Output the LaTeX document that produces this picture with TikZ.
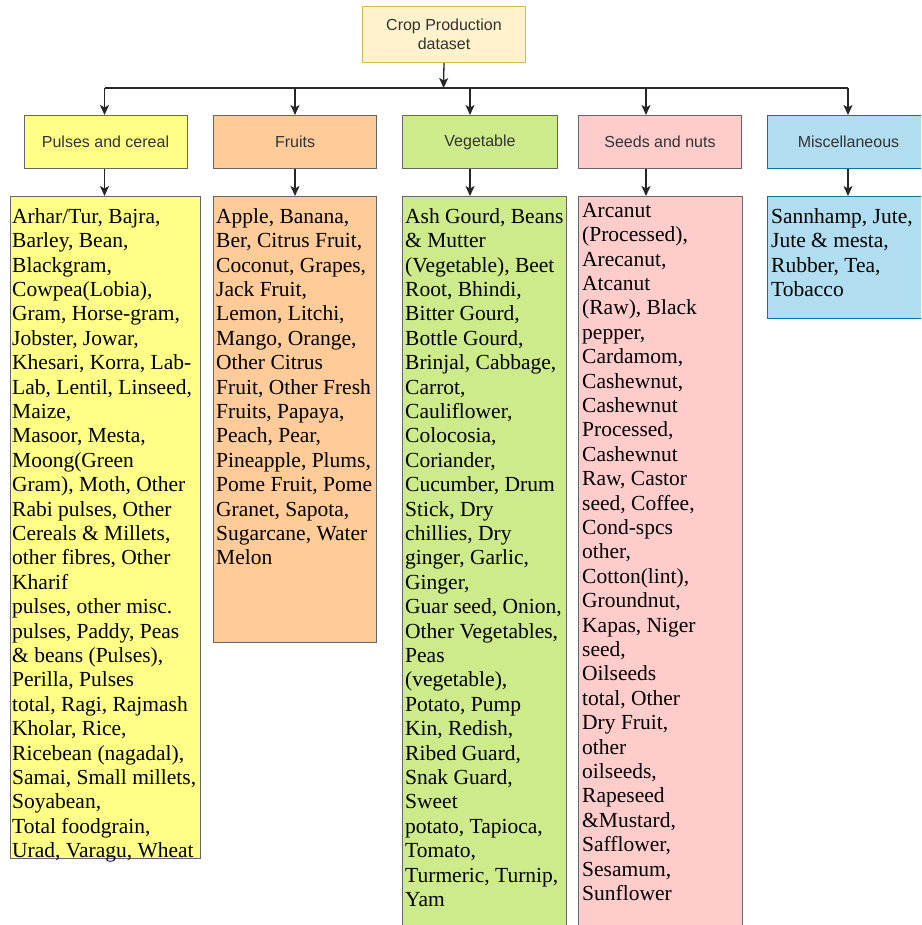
\documentclass[tikz,border=0pt]{standalone}
\usepackage{fontspec}
\setmainfont{Liberation Serif}
\setsansfont{Liberation Sans}
\usetikzlibrary{arrows.meta}
\definecolor{rootfill}{HTML}{FFF2CC}
\definecolor{rootline}{HTML}{D6B656}
\definecolor{pulsefill}{HTML}{FFFF88}
\definecolor{fruitfill}{HTML}{FFCC99}
\definecolor{vegfill}{HTML}{CDEB8B}
\definecolor{seedfill}{HTML}{FFCCCC}
\definecolor{miscfill}{HTML}{B1DDF0}
\definecolor{miscline}{HTML}{10739E}
\definecolor{boxline}{HTML}{666666}
\definecolor{labeltext}{HTML}{333333}
\tikzset{
  head/.style={draw=boxline, line width=1pt, anchor=north west, inner sep=0pt,
    align=center, text=labeltext, font=\sffamily\fontsize{16}{19}\selectfont},
  list/.style={draw=boxline, line width=1pt, anchor=north west, inner sep=0pt},
  items/.style={anchor=north west, inner sep=0pt, align=left, text=black,
    font=\fontsize{21.5}{24.4}\selectfont},
  link/.style={-{Stealth[length=10pt,width=9pt,inset=2.5pt]}, line width=1.3pt, draw=black!85}
}
\begin{document}
\begin{tikzpicture}[x=1pt,y=-1pt]
  \path[use as bounding box, clip] (0,0) rectangle (921,925);
  \fill[white] (0,0) rectangle (921,925);
  % root and categories
  \node[head, fill=rootfill, draw=rootline, minimum width=163pt, minimum height=56pt]
    (root) at (362,6) {Crop Production\\dataset};
  \node[head, fill=pulsefill, minimum width=163pt, minimum height=53pt] (pulses) at (23.5,115) {Pulses and cereal};
  \node[head, fill=fruitfill, minimum width=163pt, minimum height=53pt] (fruits) at (213,115) {Fruits};
  \node[head, fill=vegfill, minimum width=155pt, minimum height=53pt] (veg) at (402,115) {Vegetable};
  \node[head, fill=seedfill, minimum width=163pt, minimum height=53pt] (seeds) at (578,115) {Seeds and nuts};
  \node[head, fill=miscfill, draw=miscline, minimum width=162pt, minimum height=53pt] (misc) at (767,115) {Miscellaneous};
  % list boxes
  \node[list, fill=pulsefill, minimum width=190pt, minimum height=662pt] (pulseslist) at (10,196) {};
  \node[list, fill=fruitfill, minimum width=163pt, minimum height=446pt] (fruitslist) at (213,196) {};
  \node[list, fill=vegfill, minimum width=164pt, minimum height=740pt] (veglist) at (402,196) {};
  \node[list, fill=seedfill, minimum width=164pt, minimum height=740pt] (seedslist) at (578,196) {};
  \node[list, fill=miscfill, draw=miscline, minimum width=162pt, minimum height=122pt] (misclist) at (767,196) {};
  % list texts
  \node[items] (pulsestext) at (12,206) {\strut Arhar/Tur, Bajra,\\Barley, Bean,\\Blackgram,\\Cowpea(Lobia),\\Gram, Horse-gram,\\Jobster, Jowar,\\Khesari, Korra, Lab-\\Lab, Lentil, Linseed,\\Maize,\\Masoor, Mesta,\\Moong(Green\\Gram), Moth, Other\\Rabi pulses, Other\\Cereals \& Millets,\\other fibres, Other\\Kharif\\pulses, other misc.\\pulses, Paddy, Peas\\\& beans (Pulses),\\Perilla, Pulses\\total, Ragi, Rajmash\\Kholar, Rice,\\Ricebean (nagadal),\\Samai, Small millets,\\Soyabean,\\Total foodgrain,\\Urad, Varagu, Wheat};
  \node[items] (fruitstext) at (216,206) {\strut Apple, Banana,\\Ber, Citrus Fruit,\\Coconut, Grapes,\\Jack Fruit,\\Lemon, Litchi,\\Mango, Orange,\\Other Citrus\\Fruit, Other Fresh\\Fruits, Papaya,\\Peach, Pear,\\Pineapple, Plums,\\Pome Fruit, Pome\\Granet, Sapota,\\Sugarcane, Water\\Melon};
  \node[items] (vegtext) at (405,206) {\strut Ash Gourd, Beans\\\& Mutter\\(Vegetable), Beet\\Root, Bhindi,\\Bitter Gourd,\\Bottle Gourd,\\Brinjal, Cabbage,\\Carrot,\\Cauliflower,\\Colocosia,\\Coriander,\\Cucumber, Drum\\Stick, Dry\\chillies, Dry\\ginger, Garlic,\\Ginger,\\Guar seed, Onion,\\Other Vegetables,\\Peas\\(vegetable),\\Potato, Pump\\Kin, Redish,\\Ribed Guard,\\Snak Guard,\\Sweet\\potato, Tapioca,\\Tomato,\\Turmeric, Turnip,\\Yam};
  \node[items] (seedstext) at (582,200) {\strut Arcanut\\(Processed),\\Arecanut,\\Atcanut\\(Raw), Black\\pepper,\\Cardamom,\\Cashewnut,\\Cashewnut\\Processed,\\Cashewnut\\Raw, Castor\\seed, Coffee,\\Cond-spcs\\other,\\Cotton(lint),\\Groundnut,\\Kapas, Niger\\seed,\\Oilseeds\\total, Other\\Dry Fruit,\\other\\oilseeds,\\Rapeseed\\\&Mustard,\\Safflower,\\Sesamum,\\Sunflower};
  \node[items] (misctext) at (771,206) {\strut Sannhamp, Jute,\\Jute \& mesta,\\Rubber, Tea,\\Tobacco};
  % connectors
  \coordinate (bus) at (443.5,88);
  \coordinate (d1) at (104.5,88);
  \coordinate (d2) at (295,88);
  \coordinate (d3) at (470,88);
  \coordinate (d4) at (646,88);
  \coordinate (d5) at (848,88);
  \draw[line width=1.6pt, draw=black!85] (d1) -- (d5);
  \draw[link] (root.south) -- (bus);
  \draw[link] (d1) -- (d1 |- pulses.north);
  \draw[link] (d2) -- (d2 |- fruits.north);
  \draw[link] (d3) -- (d3 |- veg.north);
  \draw[link] (d4) -- (d4 |- seeds.north);
  \draw[link] (d5) -- (d5 |- misc.north);
  \draw[link] (d1 |- pulses.south) -- (d1 |- pulseslist.north);
  \draw[link] (d2 |- fruits.south) -- (d2 |- fruitslist.north);
  \draw[link] (d3 |- veg.south) -- (d3 |- veglist.north);
  \draw[link] (d4 |- seeds.south) -- (d4 |- seedslist.north);
  \draw[link] (d5 |- misc.south) -- (d5 |- misclist.north);
\end{tikzpicture}
\end{document}
